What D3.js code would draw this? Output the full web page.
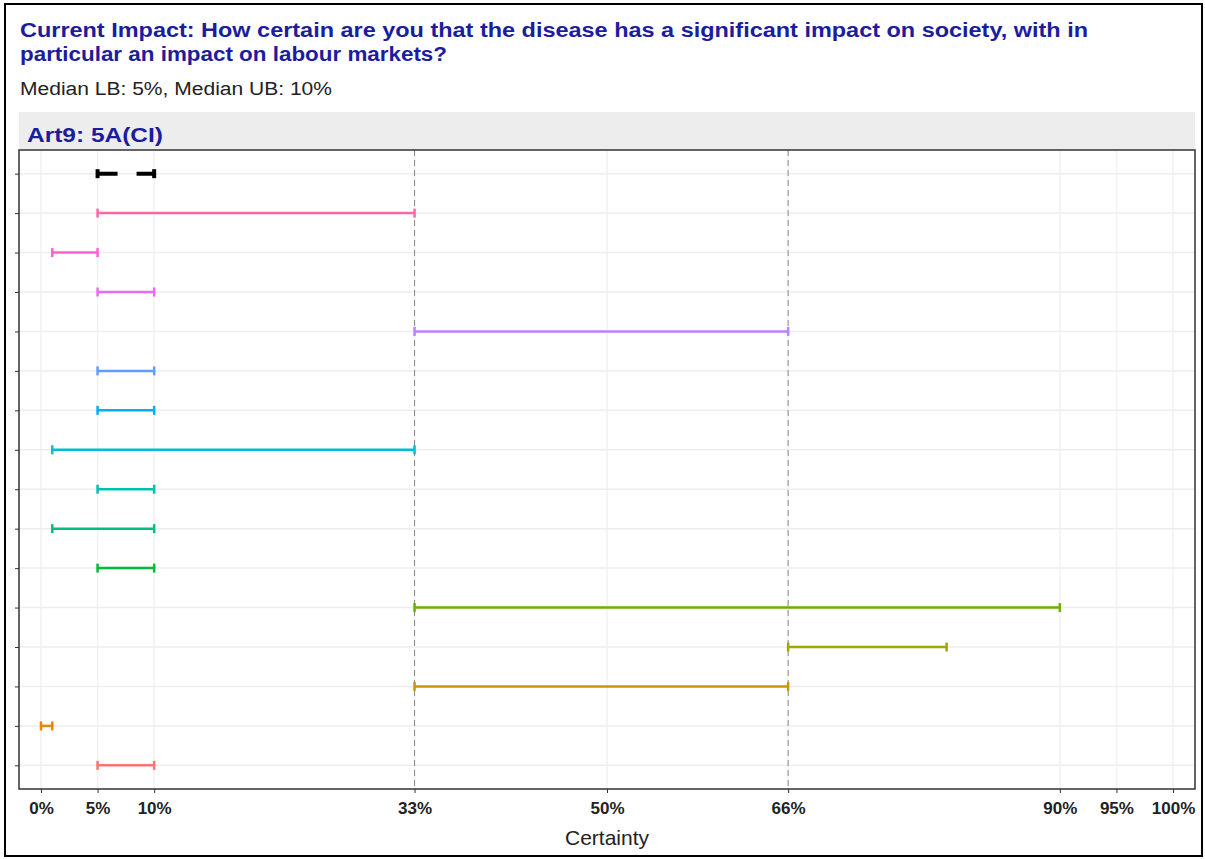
<!DOCTYPE html>
<html><head><meta charset="utf-8">
<script src="https://cdn.jsdelivr.net/npm/d3@7"></script>
<style>body{margin:0;background:#fff}svg{display:block;font-family:"Liberation Sans",Arial,sans-serif}</style>
</head><body><svg id="c" width="1205" height="859"></svg>
<script>
const titleLines = ["Current Impact: How certain are you that the disease has a significant impact on society, with in", "particular an impact on labour markets?"];
const subtitle = "Median LB: 5%, Median UB: 10%";
const stripLabel = "Art9: 5A(CI)";
const xTitle = "Certainty";
const rows = ["median","r2","r3","r4","r5","r6","r7","r8","r9","r10","r11","r12","r13","r14","r15","r16"];
const lower = [5, 5, 1, 5, 33, 5, 5, 1, 5, 1, 5, 33, 66, 33, 0, 5];
const upper = [10, 33, 5, 10, 66, 10, 10, 33, 10, 10, 10, 90, 80, 66, 1, 10];
const colors = ["#000000","#FF67A4","#FD61D1","#E76BF3","#B983FF","#619CFF","#00B0F6","#00BCD8","#00C0AF","#00BF7D","#00BA38","#6BB100","#A3A500","#C99800","#E58700","#F8766D"];
const xBreaks = [0, 5, 10, 33, 50, 66, 90, 95, 100];
const refLines = [33, 66];

const svg = d3.select("#c");
const P = {l:19, r:1195, t:150, b:789};
svg.append("rect").attr("x",5).attr("y",4).attr("width",1197).attr("height",852).attr("fill","none").attr("stroke","#000").attr("stroke-width",2);

const titleW = [1068, 427];
const tg = svg.append("g").attr("fill","#1c1c9e").attr("font-weight","bold").attr("font-size",20);
titleLines.forEach((t,i)=>tg.append("text").attr("x",20).attr("y",37+i*24).attr("textLength",titleW[i]).attr("lengthAdjust","spacingAndGlyphs").text(t));
svg.append("text").attr("x",20).attr("y",95).attr("font-size",18).attr("fill","#222").attr("textLength",312).attr("lengthAdjust","spacingAndGlyphs").text(subtitle);

svg.append("rect").attr("x",P.l).attr("y",112).attr("width",P.r-P.l).attr("height",P.t-112).attr("fill","#ededed");
svg.append("text").attr("x",27).attr("y",142).attr("font-size",20).attr("font-weight","bold").attr("fill","#1c1c9e").attr("textLength",136).attr("lengthAdjust","spacingAndGlyphs").text(stripLabel);

const x = d3.scaleLinear().domain([-1.94, 101.94]).range([P.l, P.r]);
const y = d3.scalePoint().domain(rows).range([P.t, P.b]).padding(0.6);

// grid
const g = svg.append("g");
g.selectAll(".vg").data(xBreaks).join("line").attr("x1",d=>x(d)).attr("x2",d=>x(d)).attr("y1",P.t).attr("y2",P.b).attr("stroke","#f2f2f2").attr("stroke-width",1.5);
g.selectAll(".hg").data(rows).join("line").attr("x1",P.l).attr("x2",P.r).attr("y1",d=>y(d)).attr("y2",d=>y(d)).attr("stroke","#eeeeee").attr("stroke-width",1.5);
g.selectAll(".ref").data(refLines).join("line").attr("x1",d=>x(d)).attr("x2",d=>x(d)).attr("y1",P.t).attr("y2",P.b).attr("stroke","#888").attr("stroke-width",1).attr("stroke-dasharray","6,4");

// error bars
const data = rows.map((r,i)=>({r, lo:lower[i], hi:upper[i], c:colors[i], med:i===0}));
const eb = svg.append("g").selectAll("g").data(data).join("g");
eb.append("line").attr("x1",d=>x(d.lo)).attr("x2",d=>x(d.hi)).attr("y1",d=>y(d.r)).attr("y2",d=>y(d.r))
  .attr("stroke",d=>d.c).attr("stroke-width",d=>d.med?4:2.5).attr("stroke-dasharray",d=>d.med?"20,19":null);
eb.selectAll(".cap").data(d=>[{x:d.lo,d},{x:d.hi,d}]).join("line")
  .attr("x1",e=>x(e.x)).attr("x2",e=>x(e.x)).attr("y1",e=>y(e.d.r)-4.5).attr("y2",e=>y(e.d.r)+4.5)
  .attr("stroke",e=>e.d.c).attr("stroke-width",e=>e.d.med?4:2.5);

// panel border
svg.append("rect").attr("x",P.l).attr("y",P.t).attr("width",P.r-P.l).attr("height",P.b-P.t).attr("fill","none").attr("stroke","#333").attr("stroke-width",1.5);

// axes
const xa = svg.append("g").attr("transform",`translate(0,${P.b})`).call(d3.axisBottom(x).tickValues(xBreaks).tickFormat(d=>d+"%").tickSize(4).tickPadding(9));
xa.select(".domain").remove();
xa.selectAll("line").attr("stroke","#333");
xa.selectAll("text").attr("font-size",17).attr("font-weight","bold").attr("fill","#222").attr("font-family","Liberation Sans, Arial, sans-serif");
const ya = svg.append("g").attr("transform",`translate(${P.l},0)`).call(d3.axisLeft(y).tickFormat("").tickSize(4));
ya.select(".domain").remove();
ya.selectAll("line").attr("stroke","#333");

svg.append("text").attr("x",x(50)).attr("y",845).attr("text-anchor","middle").attr("font-size",21).attr("fill","#222").text(xTitle);
</script></body></html>
